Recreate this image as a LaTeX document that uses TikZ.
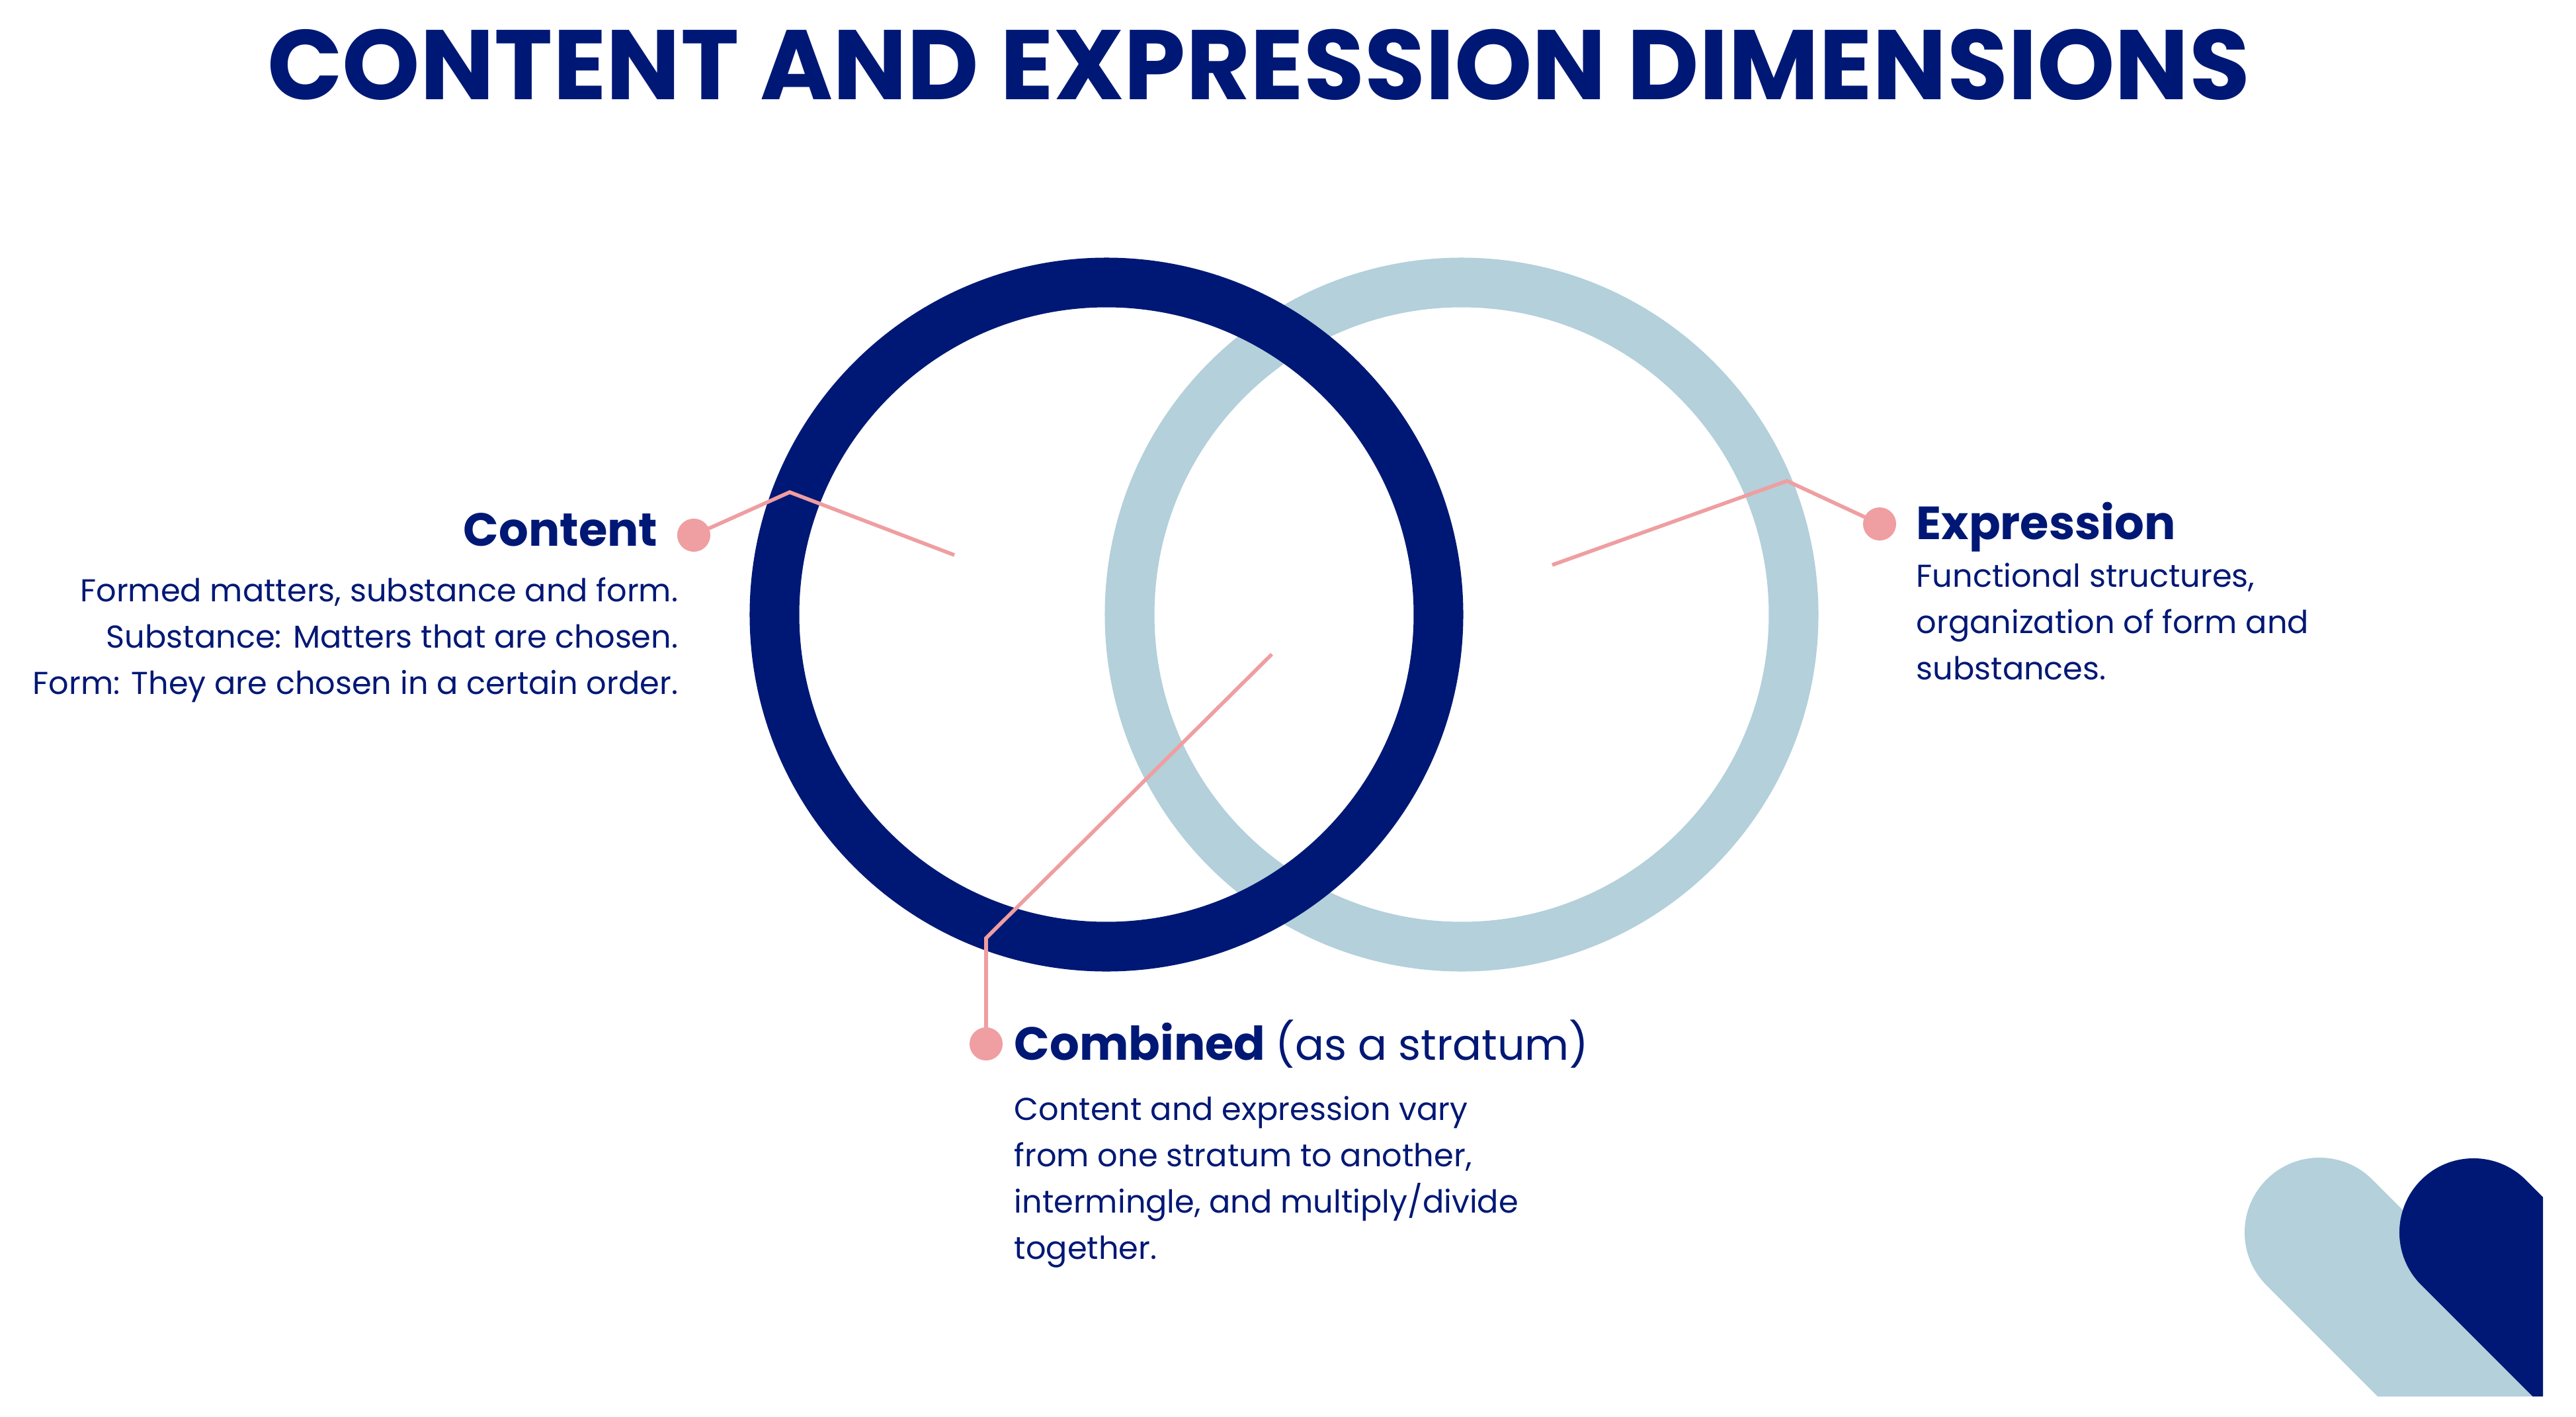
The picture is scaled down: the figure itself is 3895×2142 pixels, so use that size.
\documentclass[tikz,border=0pt]{standalone}
\usepackage{fontspec}
\setmainfont{Poppins}
\definecolor{navy}{HTML}{001875}
\definecolor{lightb}{HTML}{B3D0DB}
\definecolor{pink}{HTML}{EF9EA1}
\begin{document}
\begin{tikzpicture}[x=0.01cm,y=-0.01cm,
  head/.style={font=\fontsize{20}{24}\selectfont\bfseries,text=navy,inner sep=0},
  body/.style={font=\fontsize{13.6}{19.9}\selectfont,text=navy,inner sep=0},
  lead/.style={draw=pink,line width=1.6pt},
  dot/.style={circle,fill=pink,inner sep=0,minimum size=0.5cm}]
\useasboundingbox (0,0) rectangle (3895,2142);
\fill[white] (0,0) rectangle (3895,2142);
\node[font=\fontsize{42.5}{45}\selectfont\bfseries,text=navy,anchor=base] (title) at (1903,150) {CONTENT AND EXPRESSION DIMENSIONS};
% decoration bottom right
\begin{scope}
\clip (0,0) rectangle (3845,2110);
\draw[lightb,line width=2.26cm,line cap=round] (3507,1863) -- (3907,2263);
\draw[navy,line width=2.24cm,line cap=round] (3740,1863) -- (4140,2263);
\end{scope}
% rings
\draw[lightb,line width=0.75cm] (2210,929) circle (502);
\draw[navy,line width=0.75cm] (1673,929) circle (502);
% leaders
\node[dot] (cd) at (1049,809) {};
\coordinate (c1) at (1194,744);
\coordinate (c2) at (1443,839);
\draw[lead] (cd.center) -- (c1) -- (c2);
\node[dot] (ed) at (2842,792) {};
\coordinate (e1) at (2702,727);
\coordinate (e2) at (2347,854);
\draw[lead] (ed.center) -- (e1) -- (e2);
\node[dot] (bd) at (1491,1578) {};
\coordinate (b1) at (1491,1418);
\coordinate (b2) at (1923,989);
\draw[lead] (bd.center) -- (b1) -- (b2);
% texts
\node[head,anchor=base east] (ch) at (995,825) {Content};
\node[body,anchor=north east,align=right] (cb) at (1026,872) {Formed matters, substance and form.\\Substance: Matters that are chosen.\\Form: They are chosen in a certain order.};
\node[head,anchor=base west] (eh) at (2897,815) {Expression};
\node[body,anchor=north west,align=left] (eb) at (2897,850) {Functional structures,\\organization of form and\\substances.};
\node[head,anchor=base west] (bh) at (1533,1602) {Combined {\normalfont\fontsize{18.5}{22}\selectfont(as a stratum)}};
\node[body,anchor=north west,align=left] (bb) at (1533,1656) {Content and expression vary\\from one stratum to another,\\intermingle, and multiply/divide\\together.};
\end{tikzpicture}
\end{document}
